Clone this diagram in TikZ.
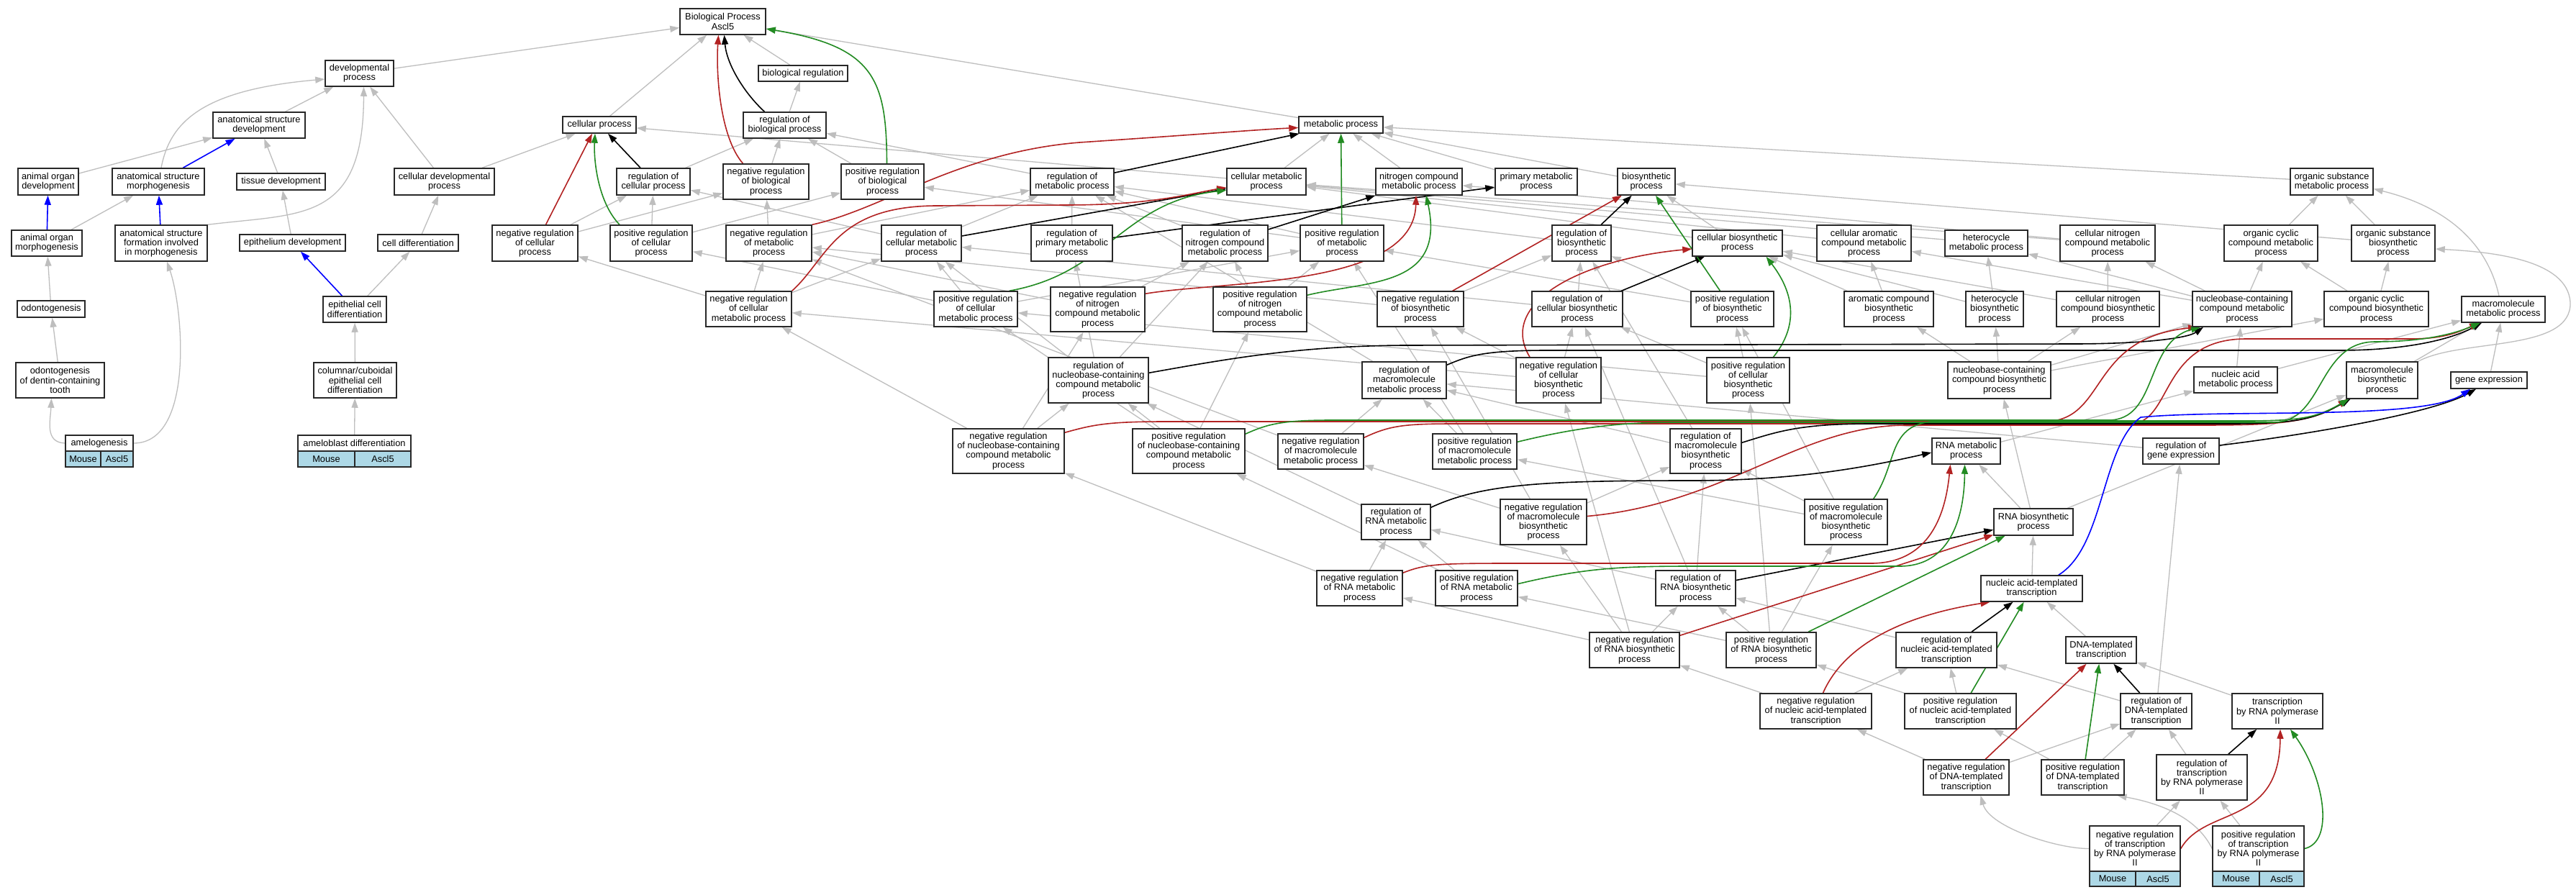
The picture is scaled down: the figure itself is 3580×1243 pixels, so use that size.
\documentclass[tikz,border=0pt]{standalone}
\usepackage{fontspec}
\setmainfont{Liberation Sans}
\usetikzlibrary{arrows.meta}
\pgfdeclarelayer{bg}
\pgfsetlayers{bg,main}
\definecolor{edgegray}{RGB}{190,190,190}
\definecolor{fire}{RGB}{178,34,34}
\definecolor{forest}{RGB}{34,139,34}
\definecolor{lblue}{RGB}{173,216,230}
\definecolor{boxline}{RGB}{40,40,40}
\tikzset{
 gobox/.style={draw=boxline, line width=1.5pt, fill=white, inner xsep=2pt, inner ysep=0pt, align=center, font=\fontsize{12.8}{13.2}\selectfont},
 cellbox/.style={draw=boxline, line width=1.5pt, fill=lblue, inner sep=0pt, font=\fontsize{12.8}{13.2}\selectfont},
 arrowhd/.style={-{Triangle[length=13pt,width=9pt]}},
 ge/.style={draw=edgegray, line width=1.3pt, arrowhd},
 ke/.style={draw=black, line width=1.6pt, arrowhd},
 re/.style={draw=fire, line width=1.6pt, arrowhd},
 gre/.style={draw=forest, line width=1.6pt, arrowhd},
 be/.style={draw=blue, line width=1.6pt, arrowhd},
}
\newcommand{\gonode}[6]{\node[gobox, minimum width={#3pt-#2pt}, minimum height={#5pt-#4pt}] (#1) at ({(#2+#3)/2},{(#4+#5)/2}) {#6};}
\begin{document}
\begin{tikzpicture}[x=1pt,y=-1pt]
\useasboundingbox (0,0) rectangle (3580,1243);
% ---- nodes ----
\gonode{BP}{945}{1064}{12}{48}{Biological Process\\Ascl5}
\gonode{devproc}{452}{547}{84}{120}{developmental\\process}
\gonode{bioreg}{1054}{1178}{91}{113}{biological regulation}
\gonode{asdev}{296}{424}{156}{192}{anatomical structure\\development}
\gonode{cellproc}{782}{884}{162}{185}{cellular process}
\gonode{regbio}{1033}{1148}{156}{192}{regulation of\\biological process}
\gonode{metproc}{1805}{1922}{162}{185}{metabolic process}
\gonode{aod}{25}{109}{234}{271}{animal organ\\development}
\gonode{asm}{156}{284}{234}{271}{anatomical structure\\morphogenesis}
\gonode{tissdev}{329}{452}{241}{264}{tissue development}
\gonode{celldevproc}{548}{687}{234}{271}{cellular developmental\\process}
\gonode{regcell}{857}{959}{234}{271}{regulation of\\cellular process}
\gonode{nrbio}{1005}{1124}{228}{277}{negative regulation\\of biological\\process}
\gonode{prbio}{1169}{1284}{228}{277}{positive regulation\\of biological\\process}
\gonode{regmet}{1432}{1548}{234}{271}{regulation of\\metabolic process}
\gonode{cellmet}{1705}{1815}{234}{271}{cellular metabolic\\process}
\gonode{ncmet}{1912}{2032}{234}{271}{nitrogen compound\\metabolic process}
\gonode{primmet}{2078}{2192}{234}{271}{primary metabolic\\process}
\gonode{biosyn}{2248}{2328}{234}{271}{biosynthetic\\process}
\gonode{osmet}{3183}{3298}{234}{271}{organic substance\\metabolic process}
%
\gonode{aom}{16}{114}{320}{356}{animal organ\\morphogenesis}
\gonode{asfm}{160}{288}{313}{363}{anatomical structure\\formation involved\\in morphogenesis}
\gonode{epidev}{333}{480}{326}{349}{epithelium development}
\gonode{celldiff}{525}{637}{326}{349}{cell differentiation}
\gonode{nrcell}{684}{803}{313}{363}{negative regulation\\of cellular\\process}
\gonode{prcell}{848}{962}{313}{363}{positive regulation\\of cellular\\process}
\gonode{nrmet}{1009}{1128}{313}{363}{negative regulation\\of metabolic\\process}
\gonode{regcellmet}{1225}{1336}{313}{363}{regulation of\\cellular metabolic\\process}
\gonode{regprim}{1433}{1546}{313}{363}{regulation of\\primary metabolic\\process}
\gonode{regnc}{1643}{1762}{313}{363}{regulation of\\nitrogen compound\\metabolic process}
\gonode{prmet}{1807}{1923}{313}{363}{positive regulation\\of metabolic\\process}
\gonode{regbiosyn}{2157}{2239}{313}{363}{regulation of\\biosynthetic\\process}
\gonode{cellbiosyn}{2352}{2477}{320}{356}{cellular biosynthetic\\process}
\gonode{carom}{2525}{2656}{313}{363}{cellular aromatic\\compound metabolic\\process}
\gonode{hetmet}{2703}{2818}{320}{356}{heterocycle\\metabolic process}
\gonode{cncmet}{2863}{2995}{313}{363}{cellular nitrogen\\compound metabolic\\process}
\gonode{occmet}{3091}{3221}{313}{363}{organic cyclic\\compound metabolic\\process}
\gonode{osbio}{3268}{3384}{313}{363}{organic substance\\biosynthetic\\process}
%
\gonode{odonto}{24}{118}{418}{441}{odontogenesis}
\gonode{epicd}{449}{537}{412}{448}{epithelial cell\\differentiation}
\gonode{nrcellmet}{981}{1100}{405}{454}{negative regulation\\of cellular\\metabolic process}
\gonode{prcellmet}{1298}{1414}{405}{454}{positive regulation\\of cellular\\metabolic process}
\gonode{nrnc}{1460}{1591}{399}{461}{negative regulation\\of nitrogen\\compound metabolic\\process}
\gonode{prnc}{1686}{1816}{399}{461}{positive regulation\\of nitrogen\\compound metabolic\\process}
\gonode{nrbiosyn}{1914}{2034}{405}{454}{negative regulation\\of biosynthetic\\process}
\gonode{regcellbiosyn}{2129}{2255}{405}{454}{regulation of\\cellular biosynthetic\\process}
\gonode{prbiosyn}{2350}{2465}{405}{454}{positive regulation\\of biosynthetic\\process}
\gonode{arombio}{2563}{2687}{405}{454}{aromatic compound\\biosynthetic\\process}
\gonode{hetbio}{2732}{2812}{405}{454}{heterocycle\\biosynthetic\\process}
\gonode{cncbio}{2858}{3001}{405}{454}{cellular nitrogen\\compound biosynthetic\\process}
\gonode{nbcmet}{3047}{3185}{405}{454}{nucleobase-containing\\compound metabolic\\process}
\gonode{occbio}{3230}{3375}{405}{454}{organic cyclic\\compound biosynthetic\\process}
\gonode{macromet}{3421}{3537}{412}{448}{macromolecule\\metabolic process}
%
\gonode{odontodct}{22}{145}{504}{553}{odontogenesis\\of dentin-containing\\tooth}
\gonode{colcub}{436}{551}{504}{553}{columnar/cuboidal\\epithelial cell\\differentiation}
\gonode{regnbc}{1457}{1596}{497}{560}{regulation of\\nucleobase-containing\\compound metabolic\\process}
\gonode{regmacromet}{1893}{2010}{503}{554}{regulation of\\macromolecule\\metabolic process}
\gonode{nrcellbiosyn}{2107}{2225}{497}{560}{negative regulation\\of cellular\\biosynthetic\\process}
\gonode{prcellbiosyn}{2372}{2487}{497}{560}{positive regulation\\of cellular\\biosynthetic\\process}
\gonode{nbcbio}{2707}{2850}{503}{554}{nucleobase-containing\\compound biosynthetic\\process}
\gonode{nametab}{3049}{3165}{510}{546}{nucleic acid\\metabolic process}
\gonode{macrobio}{3261}{3360}{503}{554}{macromolecule\\biosynthetic\\process}
\gonode{geneexp}{3406}{3512}{517}{540}{gene expression}
%
\gonode{amelo}{91}{185}{605}{627}{amelogenesis}
\node[cellbox, minimum width=49pt, minimum height=22pt] (ameloM) at (115.5,638) {Mouse};
\node[cellbox, minimum width=45pt, minimum height=22pt] (ameloA) at (162.5,638) {Ascl5};
\gonode{amelobl}{414}{571}{605}{627}{ameloblast differentiation}
\node[cellbox, minimum width=79pt, minimum height=22pt] (ameloblM) at (453.5,638) {Mouse};
\node[cellbox, minimum width=78pt, minimum height=22pt] (ameloblA) at (532,638) {Ascl5};
\gonode{nrnbc}{1324}{1479}{596}{658}{negative regulation\\of nucleobase-containing\\compound metabolic\\process}
\gonode{prnbc}{1574}{1730}{596}{658}{positive regulation\\of nucleobase-containing\\compound metabolic\\process}
\gonode{nrmacromet}{1776}{1895}{603}{652}{negative regulation\\of macromolecule\\metabolic process}
\gonode{prmacromet}{1991}{2108}{603}{652}{positive regulation\\of macromolecule\\metabolic process}
\gonode{regmacrobio}{2321}{2420}{596}{658}{regulation of\\macromolecule\\biosynthetic\\process}
\gonode{rnamet}{2685}{2780}{609}{645}{RNA metabolic\\process}
\gonode{reggeneexp}{2978}{3084}{609}{645}{regulation of\\gene expression}
%
\gonode{regrnamet}{1892}{1988}{701}{750}{regulation of\\RNA metabolic\\process}
\gonode{nrmacrobio}{2085}{2205}{694}{757}{negative regulation\\of macromolecule\\biosynthetic\\process}
\gonode{prmacrobio}{2508}{2623}{694}{757}{positive regulation\\of macromolecule\\biosynthetic\\process}
\gonode{rnabio}{2771}{2881}{707}{744}{RNA biosynthetic\\process}
%
\gonode{nrrnamet}{1830}{1949}{793}{842}{negative regulation\\of RNA metabolic\\process}
\gonode{prrnamet}{1995}{2109}{793}{842}{positive regulation\\of RNA metabolic\\process}
\gonode{regrnabio}{2301}{2412}{793}{842}{regulation of\\RNA biosynthetic\\process}
\gonode{natt}{2753}{2894}{800}{836}{nucleic acid-templated\\transcription}
%
\gonode{nrrnabio}{2209}{2334}{879}{928}{negative regulation\\of RNA biosynthetic\\process}
\gonode{prrnabio}{2399}{2524}{879}{928}{positive regulation\\of RNA biosynthetic\\process}
\gonode{regnatt}{2635}{2775}{879}{928}{regulation of\\nucleic acid-templated\\transcription}
\gonode{dtt}{2871}{2969}{885}{922}{DNA-templated\\transcription}
%
\gonode{nrnatt}{2446}{2601}{964}{1013}{negative regulation\\of nucleic acid-templated\\transcription}
\gonode{prnatt}{2647}{2802}{964}{1013}{positive regulation\\of nucleic acid-templated\\transcription}
\gonode{regdtt}{2947}{3046}{964}{1013}{regulation of\\DNA-templated\\transcription}
\gonode{trpol}{3102}{3228}{964}{1013}{transcription\\by RNA polymerase\\II}
%
\gonode{nrdtt}{2673}{2792}{1056}{1105}{negative regulation\\of DNA-templated\\transcription}
\gonode{prdtt}{2837}{2952}{1056}{1105}{positive regulation\\of DNA-templated\\transcription}
\gonode{regtrpol}{2997}{3123}{1049}{1112}{regulation of\\transcription\\by RNA polymerase\\II}
%
\gonode{nrtrpol}{2904}{3030}{1148}{1211}{negative regulation\\of transcription\\by RNA polymerase\\II}
\node[cellbox, minimum width=64pt, minimum height=21pt] (nrtrpolM) at (2936,1221.5) {Mouse};
\node[cellbox, minimum width=62pt, minimum height=21pt] (nrtrpolA) at (2999,1221.5) {Ascl5};
\gonode{prtrpol}{3075}{3202}{1148}{1211}{positive regulation\\of transcription\\by RNA polymerase\\II}
\node[cellbox, minimum width=65pt, minimum height=21pt] (prtrpolM) at (3107.5,1221.5) {Mouse};
\node[cellbox, minimum width=62pt, minimum height=21pt] (prtrpolA) at (3171,1221.5) {Ascl5};
% ---- edges ----
\begin{pgfonlayer}{bg}
\fill[white] (0,0) rectangle (3580,1243);
\foreach \a/\b in {devproc/BP, asdev/devproc, aod/asdev, tissdev/asdev, celldevproc/devproc, celldevproc/cellproc, cellproc/BP, aom/asm, epidev/tissdev, celldiff/celldevproc, odonto/aom, epicd/celldiff, odontodct/odonto, colcub/epicd, amelobl/colcub,
 bioreg/BP, regbio/bioreg, nrbio/regbio, prbio/regbio, metproc/BP, regcell/regbio, nrcell/regcell, nrcell/nrbio, prcell/regcell, prcell/prbio, regmet/regbio, cellmet/metproc, cellmet/cellproc, ncmet/metproc, primmet/metproc, biosyn/metproc, osmet/metproc,
 nrmet/regmet, nrmet/nrbio, prmet/regmet, prmet/prbio, regcellmet/regcell, regcellmet/regmet, regprim/regmet, regnc/regmet,
 nrcellmet/regcellmet, nrcellmet/nrmet, nrcellmet/nrcell, prcellmet/regcellmet, prcellmet/prmet, prcellmet/prcell,
 nrnc/regnc, nrnc/nrmet, prnc/regnc, prnc/prmet, regbiosyn/regmet, cellbiosyn/biosyn, cellbiosyn/cellmet,
 nrbiosyn/regbiosyn, nrbiosyn/nrmet, prbiosyn/regbiosyn, prbiosyn/prmet, regcellbiosyn/regbiosyn, regcellbiosyn/regcellmet,
 nrcellbiosyn/regcellbiosyn, nrcellbiosyn/nrbiosyn, nrcellbiosyn/nrcellmet, prcellbiosyn/regcellbiosyn, prcellbiosyn/prbiosyn, prcellbiosyn/prcellmet,
 carom/cellmet, hetmet/cellmet, cncmet/cellmet, cncmet/ncmet, occmet/osmet, osbio/osmet, osbio/biosyn,
 arombio/carom, arombio/cellbiosyn, hetbio/hetmet, hetbio/cellbiosyn, cncbio/cncmet, cncbio/cellbiosyn,
 nbcmet/carom, nbcmet/hetmet, nbcmet/cncmet, nbcmet/occmet, occbio/occmet, occbio/osbio,
 regnbc/regcellmet, regnbc/regnc, regnbc/regprim, nrnbc/regnbc, nrnbc/nrcellmet, nrnbc/nrnc, prnbc/regnbc, prnbc/prcellmet, prnbc/prnc,
 regmacromet/regmet, nrmacromet/regmacromet, nrmacromet/nrmet, prmacromet/regmacromet, prmacromet/prmet,
 regmacrobio/regbiosyn, regmacrobio/regmacromet,
 nbcbio/nbcmet, nbcbio/hetbio, nbcbio/cncbio, nbcbio/arombio, nbcbio/occbio, nametab/nbcmet, nametab/macromet, macrobio/macromet, geneexp/macromet,
 rnamet/nametab, reggeneexp/regmacromet, regrnamet/regnbc,
 nrmacrobio/regmacrobio, nrmacrobio/nrbiosyn, nrmacrobio/nrmacromet, prmacrobio/regmacrobio, prmacrobio/prbiosyn, prmacrobio/prmacromet,
 nrrnamet/regrnamet, nrrnamet/nrnbc, prrnamet/regrnamet, prrnamet/prnbc,
 rnabio/rnamet, rnabio/nbcbio, rnabio/macrobio,
 regrnabio/regrnamet, regrnabio/regmacrobio, regrnabio/regcellbiosyn, natt/rnabio,
 nrrnabio/regrnabio, nrrnabio/nrrnamet, nrrnabio/nrmacrobio, nrrnabio/nrcellbiosyn,
 prrnabio/regrnabio, prrnabio/prrnamet, prrnabio/prmacrobio, prrnabio/prcellbiosyn,
 regnatt/regrnabio, nrnatt/nrrnabio, nrnatt/regnatt, prnatt/prrnabio, prnatt/regnatt,
 dtt/natt, regdtt/regnatt, regdtt/reggeneexp, trpol/dtt,
 nrdtt/regdtt, nrdtt/nrnatt, prdtt/regdtt, prdtt/prnatt, regtrpol/regdtt,
 nrtrpol/regtrpol, prtrpol/regtrpol}
 \draw[ge] (\a) -- (\b);
\foreach \a/\b in {regmet/metproc, regcellmet/cellmet, regprim/primmet, regnc/ncmet, regbiosyn/biosyn, regcellbiosyn/cellbiosyn, regrnabio/rnabio, regnatt/natt, regdtt/dtt, regtrpol/trpol}
 \draw[ke] (\a) -- (\b);
\foreach \a/\b in {nrbiosyn/biosyn, nrrnabio/rnabio, nrdtt/dtt}
 \draw[re] (\a) -- (\b);
\foreach \a/\b in {prmet/metproc, prbiosyn/biosyn, prrnabio/rnabio, prnatt/natt, prdtt/dtt}
 \draw[gre] (\a) -- (\b);
\foreach \a/\b in {asm/asdev, aom/aod, asfm/asm, epicd/epidev}
 \draw[be] (\a) -- (\b);
% curved gray edges
\draw[ge] ([xshift=4pt]asm.north) .. controls (236,170) and (280,125) .. ([yshift=-8pt]devproc.west);
\draw[ge] (asfm.north east) .. controls (420,296) and (505,310) .. ([xshift=6pt]devproc.south);
\draw[ge] (amelo.west) .. controls (62,615) and (70,585) .. ([xshift=-12pt]odontodct.south);
\draw[ge] (amelo.east) .. controls (270,616) and (255,430) .. ([xshift=8pt]asfm.south);
\draw[ge] ([xshift=-6pt]macromet.north) .. controls (3455,330) and (3390,285) .. ([yshift=-10pt]osmet.east);
\draw[ge] (macrobio.north east) .. controls (3420,470) and (3575,490) .. (3572,420) .. controls (3568,360) and (3460,350) .. ([yshift=-8pt]osbio.east);
\draw[ge] (nrtrpol.west) .. controls (2860,1180) and (2765,1150) .. ([xshift=20pt]nrdtt.south);
\draw[ge] (prtrpol.west) .. controls (3055,1140) and (3010,1118) .. ([xshift=48pt]prdtt.south);
% top colored
\draw[ke] ([xshift=-28pt]regbio.north) .. controls (1035,130) and (1010,90) .. ([xshift=2pt]BP.south);
\draw[re] ([xshift=-32pt]nrbio.north) .. controls (1000,190) and (995,100) .. ([xshift=-6pt]BP.south);
\draw[gre] ([xshift=6pt]prbio.north) .. controls (1232,110) and (1215,65) .. ([yshift=-10pt]BP.east);
\draw[ke] ([xshift=-18pt]regcell.north) -- ([xshift=12pt]cellproc.south);
\draw[re] ([xshift=15pt]nrcell.north) -- ([xshift=-10pt]cellproc.south);
\draw[gre] ([xshift=-44pt]prcell.north) .. controls (830,280) and (825,220) .. ([xshift=-6pt]cellproc.south);
% metabolic colored
\draw[re] (nrmet.north east) .. controls (1230,290) and (1330,212) .. (1500,198) .. controls (1650,188) and (1750,180) .. ([yshift=-4pt]metproc.west);
\draw[re] (nrcellmet.north east) .. controls (1150,360) and (1160,287) .. (1300,286) -- (1480,285) .. controls (1600,285) and (1650,270) .. ([yshift=-8pt]cellmet.west);
\draw[gre] ([xshift=-12pt]prcellmet.north east) .. controls (1540,380) and (1560,280) .. ([yshift=-12pt]cellmet.west);
\draw[re] ([yshift=-10pt]nrnc.north east) .. controls (1700,390) and (1965,400) .. ([xshift=-4pt]ncmet.south);
\draw[gre] ([yshift=-12pt]prnc.north east) .. controls (1900,390) and (2010,400) .. ([xshift=10pt]ncmet.south);
\draw[re] ([xshift=-40pt]nrcellbiosyn.north) .. controls (2080,420) and (2200,360) .. ([yshift=-8pt]cellbiosyn.west);
\draw[gre] ([xshift=35pt]prcellbiosyn.north) .. controls (2510,440) and (2480,390) .. ([xshift=40pt]cellbiosyn.south);
% bus edges
\draw[ke] ([yshift=-22pt]regnbc.north east) .. controls (1700,500) and (1800,481) .. (1950,480) -- (2880,478) .. controls (2980,478) and (3040,470) .. ([xshift=-54pt]nbcmet.south);
\draw[ke] ([yshift=-5pt]regmacromet.north east) .. controls (2040,495) and (2060,487) .. (2150,487) -- (3250,487) .. controls (3350,487) and (3410,470) .. ([xshift=-30pt]macromet.south);
\draw[re] ([yshift=-6pt]nrnbc.north east) .. controls (1520,590) and (1540,586) .. (1620,586) -- (2840,586) .. controls (2930,586) and (2900,470) .. ([xshift=-62pt]nbcmet.south);
\draw[re] ([yshift=-6pt]nrmacromet.north east) .. controls (1930,592) and (1950,589) .. (2020,589) -- (2960,589) .. controls (3020,589) and (3000,472) .. (3120,471) -- (3350,471) .. controls (3400,471) and (3420,460) .. ([xshift=-34pt]macromet.south);
\draw[re] ([yshift=8pt]nrmacrobio.east) .. controls (2400,700) and (2500,591) .. (2650,591) -- (3050,591) .. controls (3150,591) and (3210,590) .. ([xshift=-48pt]macrobio.south);
\draw[ke] ([yshift=-20pt]regmacrobio.north east) .. controls (2470,600) and (2500,589) .. (2600,589) -- (3100,589) .. controls (3200,589) and (3220,580) .. ([xshift=-44pt]macrobio.south);
\draw[gre] ([yshift=-8pt]prnbc.north east) .. controls (1760,590) and (1780,584) .. (1850,584) -- (2930,584) .. controls (3000,584) and (2980,475) .. ([xshift=-58pt]nbcmet.south);
\draw[gre] ([yshift=-12pt]prmacromet.north east) .. controls (2200,592) and (2260,587) .. (2330,587) -- (3160,587) .. controls (3230,587) and (3220,476) .. (3300,475) .. controls (3380,475) and (3420,460) .. ([xshift=-32pt]macromet.south);
\draw[gre] ([xshift=-20pt]prmacrobio.north east) .. controls (2640,640) and (2620,585) .. (2700,585) -- (3120,585) .. controls (3200,585) and (3220,580) .. ([xshift=-46pt]macrobio.south);
% RNA metabolic colored
\draw[ke] ([yshift=-5pt]regrnamet.north east) .. controls (2060,672) and (2150,668) .. (2350,668) .. controls (2500,668) and (2600,648) .. ([yshift=-2pt]rnamet.west);
\draw[re] ([yshift=-4pt]nrrnamet.north east) .. controls (1980,784) and (2000,783) .. (2100,783) -- (2600,783) .. controls (2690,783) and (2705,700) .. ([xshift=-22pt]rnamet.south);
\draw[gre] ([yshift=6pt]prrnamet.east) .. controls (2200,790) and (2250,787) .. (2350,787) -- (2640,787) .. controls (2720,787) and (2730,700) .. ([xshift=-2pt]rnamet.south);
\draw[re] ([xshift=10pt]nrnatt.north) .. controls (2570,880) and (2680,850) .. ([xshift=-58pt]natt.south);
% gene expression
\draw[ke] ([yshift=8pt]reggeneexp.east) .. controls (3200,605) and (3380,575) .. ([xshift=-18pt]geneexp.south);
\draw[be] ([xshift=-34pt]natt.north east) .. controls (2925,760) and (2920,620) .. (2975,580) .. controls (3100,568) and (3370,585) .. ([xshift=-26pt]geneexp.south);
% transcription by RNA pol II
\draw[re] (nrtrpol.east) .. controls (3065,1120) and (3168,1150) .. ([xshift=4pt]trpol.south);
\draw[gre] (prtrpol.east) .. controls (3245,1170) and (3230,1080) .. ([xshift=18pt]trpol.south);
\end{pgfonlayer}
\end{tikzpicture}
\end{document}
